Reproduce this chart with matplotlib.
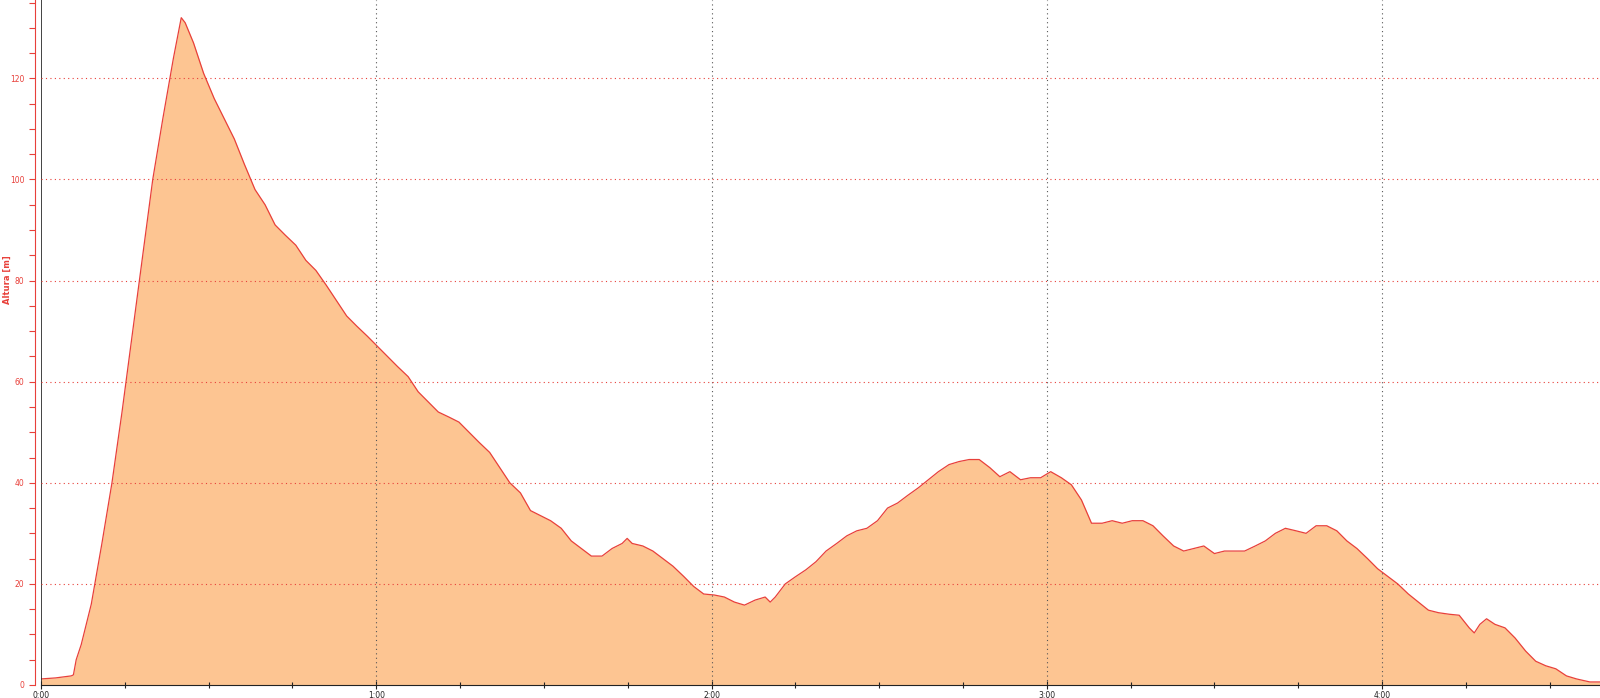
import matplotlib
matplotlib.use("Agg")
import matplotlib.pyplot as plt
from matplotlib.ticker import MultipleLocator, FuncFormatter

# elapsed time (minutes) and altitude (m)
minutes = [0.0, 2.6, 5.4, 5.8, 6.3, 7.2, 9.0, 10.9, 12.7, 14.5, 16.3, 18.2, 20.0, 21.8,
           23.7, 25.1, 25.8, 27.3, 29.1, 31.0, 32.8, 34.6, 36.4, 38.3, 40.1, 41.9, 43.7,
           45.6, 47.4, 49.2, 51.1, 52.9, 54.7, 56.5, 58.4, 60.2, 62.0, 63.8, 65.7, 67.5,
           69.3, 71.1, 73.0, 74.8, 76.6, 78.4, 80.3, 82.1, 83.9, 85.8, 87.6, 89.4, 91.2,
           93.1, 94.9, 96.7, 98.5, 100.4, 102.2, 104.0, 104.9, 105.8, 107.7, 109.5, 111.3,
           113.1, 115.0, 116.8, 118.6, 120.5, 122.3, 124.1, 125.9, 127.8, 129.6, 130.5,
           131.4, 133.2, 135.0, 136.9, 138.7, 140.5, 142.4, 144.2, 146.0, 147.8, 149.7,
           151.5, 153.3, 155.1, 157.0, 158.8, 160.6, 162.5, 164.3, 166.1, 167.9, 169.8,
           171.6, 173.4, 175.3, 177.1, 178.9, 180.7, 182.6, 184.4, 186.2, 188.0, 189.9,
           191.7, 193.5, 195.3, 197.2, 199.0, 200.8, 202.7, 204.5, 206.3, 208.1, 210.0,
           211.8, 213.6, 215.4, 217.3, 219.1, 220.9, 222.7, 224.6, 226.4, 228.2, 230.1,
           231.9, 233.7, 235.5, 237.4, 239.2, 241.0, 242.8, 244.7, 246.5, 248.3, 250.1,
           252.0, 253.8, 255.6, 256.5, 257.5, 258.7, 260.2, 262.0, 263.8, 265.7, 267.5,
           269.3, 271.1, 273.0, 274.8, 277.2, 279.0]
altura = [1.2, 1.4, 1.8, 2.0, 5.0, 8.0, 16.0, 28.0, 40.0, 54.0, 69.0, 85.0, 100.0, 112.0,
          124.0, 132.0, 131.0, 127.0, 121.0, 116.0, 112.0, 108.0, 103.0, 98.0, 95.0, 91.0, 89.0,
          87.0, 84.0, 82.0, 79.0, 76.0, 73.0, 71.0, 69.0, 67.0, 65.0, 63.0, 61.0, 58.0,
          56.0, 54.0, 53.0, 52.0, 50.0, 48.0, 46.0, 43.0, 40.0, 38.0, 34.5, 33.5, 32.5,
          31.0, 28.5, 27.0, 25.5, 25.5, 27.0, 28.0, 29.0, 28.0, 27.5, 26.5, 25.0,
          23.5, 21.5, 19.5, 18.0, 17.8, 17.4, 16.4, 15.8, 16.8, 17.4, 16.4,
          17.4, 20.0, 21.4, 22.8, 24.4, 26.5, 28.0, 29.5, 30.5, 31.0, 32.5,
          35.0, 36.0, 37.5, 39.0, 40.6, 42.2, 43.6, 44.2, 44.6, 44.6, 43.0,
          41.2, 42.2, 40.6, 41.0, 41.0, 42.2, 41.0, 39.6, 36.6, 32.0, 32.0,
          32.5, 32.0, 32.5, 32.5, 31.5, 29.5, 27.5, 26.5, 27.0, 27.5, 26.0,
          26.5, 26.5, 26.5, 27.5, 28.5, 30.0, 31.0, 30.5, 30.0, 31.5, 31.5,
          30.5, 28.5, 27.0, 25.0, 23.0, 21.5, 20.0, 18.0, 16.4, 14.8, 14.3,
          14.0, 13.8, 11.3, 10.3, 12.0, 13.1, 12.0, 11.3, 9.3, 6.7, 4.7,
          3.8, 3.2, 1.8, 1.2, 0.6, 0.6]

fig = plt.figure(figsize=(16, 6.98), dpi=100)
ax = fig.add_axes([41 / 1600, 13 / 698, 1 - 41 / 1600, 1 - 13 / 698])

ax.fill_between(minutes, altura, 0, color='#fdc592', linewidth=0)
ax.plot(minutes, altura, color='#e8403a', linewidth=0.9)

ax.set_xlim(0, 279)
ax.set_ylim(0, 135.5)

# axes look
for side in ['top', 'right']:
    ax.spines[side].set_visible(False)
ax.spines['bottom'].set_color('#222222')
ax.spines['left'].set_color('#e8403a')
ax.spines['left'].set_position(('outward', 4))
ax.axvline(0, color='#222222', linewidth=1.2)

# ticks
ax.xaxis.set_major_locator(MultipleLocator(60))
ax.xaxis.set_minor_locator(MultipleLocator(15))
ax.xaxis.set_major_formatter(FuncFormatter(lambda v, p: '%d:%02d' % (v // 60, v % 60)))
ax.yaxis.set_major_locator(MultipleLocator(20))
ax.yaxis.set_minor_locator(MultipleLocator(5))
ax.tick_params(axis='x', which='both', direction='inout', length=6, width=0.8,
               colors='#222222', labelsize=5.5, pad=1)
ax.tick_params(axis='x', which='minor', length=4)
ax.tick_params(axis='y', which='both', direction='out', length=4, width=0.8,
               colors='#e8403a', labelsize=5.5, pad=4)

# grid
for m in [60, 120, 180, 240]:
    ax.axvline(m, color='#555555', linestyle=(0, (1, 3)), linewidth=0.8)
for a in [20, 40, 60, 80, 100, 120]:
    ax.axhline(a, color='#e8403a', linestyle=(0, (1, 3)), linewidth=0.8)

fig.text(7 / 1600, 0.6, 'Altura [m]', rotation=90, color='#e8403a', fontsize=6,
         fontweight='bold', ha='center', va='center')

plt.savefig('out.png', dpi=100)
